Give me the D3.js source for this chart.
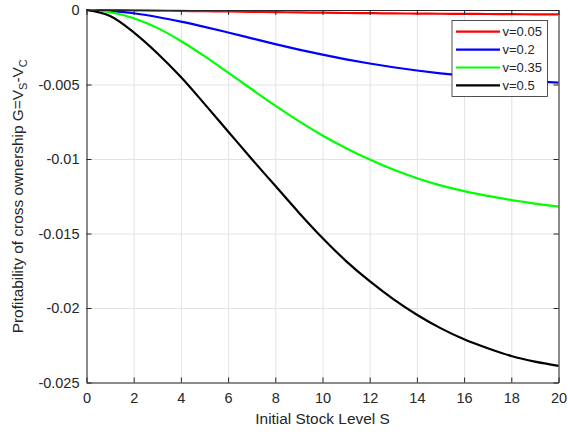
<!DOCTYPE html>
<html>
<head>
<meta charset="utf-8">
<script src="https://cdn.jsdelivr.net/npm/d3@7"></script>
<style>
  body { margin: 0; background: #fff; }
  text { font-family: "Liberation Sans", Arial, sans-serif; fill: #262626; }
</style>
</head>
<body>
<script>
// data
let sLevels = d3.range(0, 21)
let vLabels = ['v=0.05', 'v=0.2', 'v=0.35', 'v=0.5']
let lineColors = ['#ff0000', '#0000ff', '#00ff00', '#000000']
let g005 = [0, -0.00001, -0.00002, -0.00004, -0.00006, -0.00008, -0.0001, -0.00012, -0.00014, -0.00016, -0.00018,
    -0.0002, -0.00021, -0.00023, -0.00024, -0.00025, -0.00026, -0.00027, -0.00028, -0.00029, -0.00029]
let g02 = [0, -0.00006, -0.00022, -0.00047, -0.00078, -0.00113, -0.00151, -0.0019, -0.00229, -0.00266, -0.003,
    -0.00331, -0.00359, -0.00384, -0.00406, -0.00425, -0.00441, -0.00455, -0.00467, -0.00478, -0.00488]
let g035 = [0, -0.00015, -0.00055, -0.0012, -0.00208, -0.0031, -0.0042, -0.00532, -0.00642, -0.00746, -0.00842,
    -0.00928, -0.01004, -0.01071, -0.01129, -0.01177, -0.01216, -0.01248, -0.01275, -0.01299, -0.0132]
let g05 = [0, -0.0004, -0.0015, -0.0029, -0.0045, -0.0063, -0.00815, -0.01, -0.0118, -0.0136, -0.0153,
    -0.01685, -0.0182, -0.0194, -0.02045, -0.02135, -0.0221, -0.0227, -0.02322, -0.0236, -0.02388]
let allSeries = [g005, g02, g035, g05]
let xTicks = d3.range(0, 21, 2)
let yTicks = [0, -0.005, -0.01, -0.015, -0.02, -0.025]
let yTickLabels = ['0', '-0.005', '-0.01', '-0.015', '-0.02', '-0.025']

let margin = { top: 10, left: 86.5, right: 9.5, bottom: 52.5 }
let W = 568, H = 435
let w = W - margin.left - margin.right
let h = H - margin.top - margin.bottom

let svg = d3.select('body').append('svg').attr('width', W).attr('height', H)
let g = svg.append('g').attr('transform', `translate(${margin.left},${margin.top})`)

let x = d3.scaleLinear().domain([0, 20]).range([0, w])
let y = d3.scaleLinear().domain([-0.025, 0]).range([h, 0])

// grid
g.append('g').attr('transform', `translate(0,${h})`)
    .call(d3.axisBottom(x).tickValues(xTicks).tickSize(-h).tickFormat(''))
    .call(a => a.selectAll('.tick line').attr('stroke', '#e3e3e3'))
    .call(a => a.select('.domain').remove())
g.append('g')
    .call(d3.axisLeft(y).tickValues(yTicks).tickSize(-w).tickFormat(''))
    .call(a => a.selectAll('.tick line').attr('stroke', '#e3e3e3'))
    .call(a => a.select('.domain').remove())

// curves
let line = d3.line().x((d, i) => x(sLevels[i])).y(d => y(d)).curve(d3.curveCatmullRom)
g.selectAll('path.curve').data(allSeries).enter().append('path')
    .attr('class', 'curve')
    .attr('d', d => line(d))
    .attr('fill', 'none')
    .attr('stroke', (d, i) => lineColors[i])
    .attr('stroke-width', 2.2)

// axes box with inward ticks
let styleAxis = a => {
    a.select('.domain').attr('stroke', '#262626')
    a.selectAll('.tick line').attr('stroke', '#262626')
}
g.append('g').attr('transform', `translate(0,${h})`)
    .call(d3.axisBottom(x).tickValues(xTicks).tickSizeInner(-5).tickSizeOuter(0).tickPadding(10))
    .call(styleAxis)
    .call(a => a.selectAll('text').attr('font-size', 14.5).attr('fill', '#262626').attr('font-family', null))
g.append('g')
    .call(d3.axisTop(x).tickValues(xTicks).tickSizeInner(-5).tickSizeOuter(0).tickFormat(''))
    .call(styleAxis)
g.append('g')
    .call(d3.axisLeft(y).tickValues(yTicks).tickSizeInner(-5).tickSizeOuter(0).tickPadding(7)
        .tickFormat((d, i) => yTickLabels[i]))
    .call(styleAxis)
    .call(a => a.selectAll('text').attr('font-size', 14.5).attr('fill', '#262626').attr('font-family', null))
g.append('g').attr('transform', `translate(${w},0)`)
    .call(d3.axisRight(y).tickValues(yTicks).tickSizeInner(-5).tickSizeOuter(0).tickFormat(''))
    .call(styleAxis)

// axis labels
svg.append('text')
    .attr('x', margin.left + w / 2).attr('y', 424)
    .attr('text-anchor', 'middle').attr('font-size', 15.4)
    .text('Initial Stock Level S')

let yl = svg.append('text')
    .attr('transform', `translate(23,${margin.top + h / 2}) rotate(-90)`)
    .attr('text-anchor', 'middle').attr('font-size', 15.4)
yl.append('tspan').text('Profitability of cross ownership G=V')
yl.append('tspan').attr('dy', 4).attr('font-size', 11).text('S')
yl.append('tspan').attr('dy', -4).text('-V')
yl.append('tspan').attr('dy', 4).attr('font-size', 11).text('C')

// legend
let lg = svg.append('g').attr('transform', 'translate(452,20.5)')
lg.append('rect').attr('width', 95.5).attr('height', 76)
    .attr('fill', '#fff').attr('stroke', '#262626').attr('stroke-width', 0.8)
let rows = lg.selectAll('g.row').data(vLabels).enter().append('g')
    .attr('transform', (d, i) => `translate(0,${11.2 + i * 17.9})`)
rows.append('line').attr('x1', 4).attr('x2', 48)
    .attr('stroke', (d, i) => lineColors[i]).attr('stroke-width', 2.2)
rows.append('text').attr('x', 50.5).attr('dy', '0.35em')
    .attr('font-size', 13).text(d => d)
</script>
</body>
</html>
